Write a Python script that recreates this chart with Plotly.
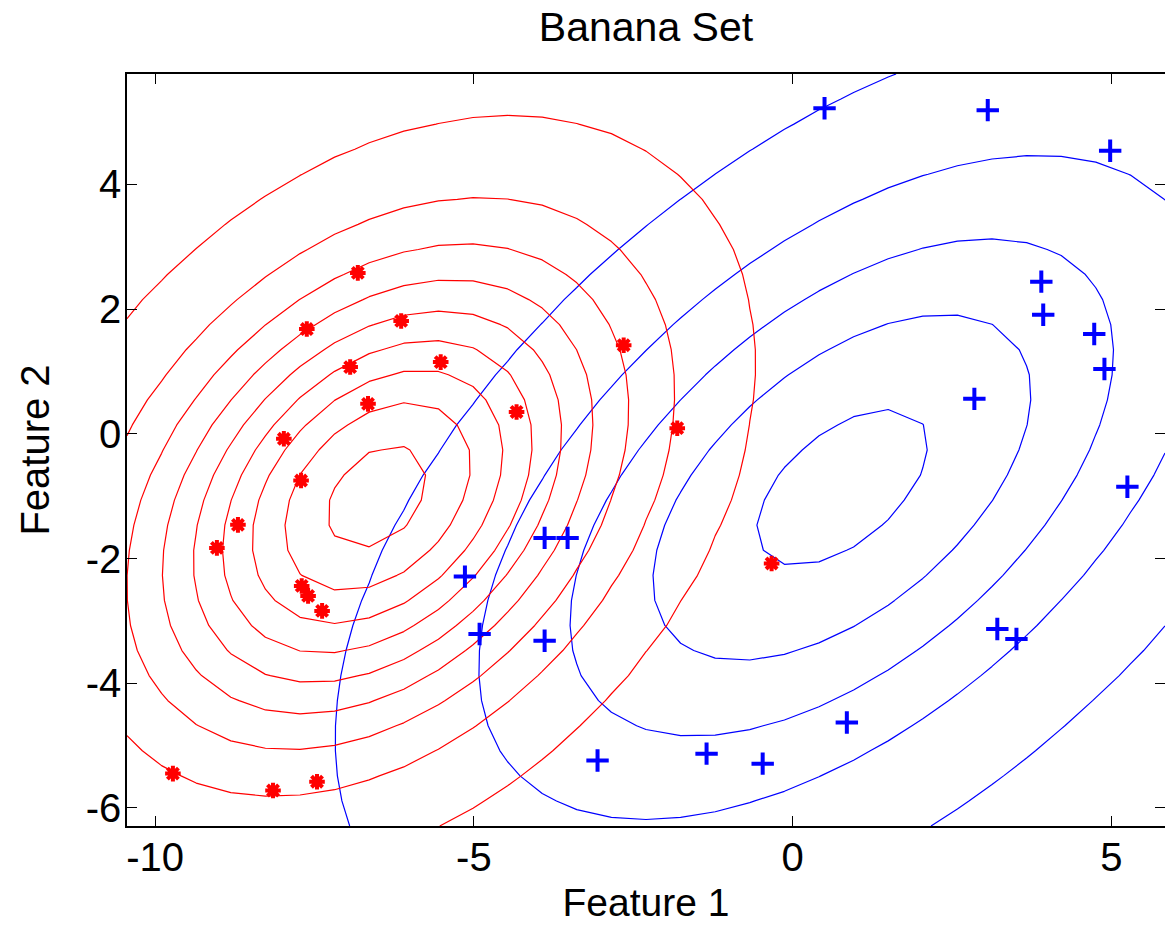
import numpy as np
import plotly.graph_objects as go

# ---- data ----
red_x = [-6.82, -7.62, -6.14, -6.94, -5.52, -6.66, -4.33, -2.65, -1.81, -7.98,
         -7.71, -8.70, -9.03, -7.70, -7.60, -7.38, -9.72, -8.15, -7.46, -0.33]
red_y = [2.58, 1.68, 1.81, 1.07, 1.15, 0.48, 0.35, 1.42, 0.09, -0.08,
         -0.75, -1.46, -1.83, -2.44, -2.60, -2.84, -5.45, -5.72, -5.58, -2.08]

blue_x = [-3.89, -3.53, -5.14, -4.91, -3.89, -3.06, -1.35, -0.47, 0.85, 3.21,
          3.51, 5.25, 0.50, 3.06, 4.98, 3.90, 3.93, 4.73, 4.89, 2.85]
blue_y = [-1.67, -1.67, -2.29, -3.21, -3.32, -5.24, -5.13, -5.29, -4.63, -3.13,
          -3.29, -0.85, 5.22, 5.19, 4.54, 2.44, 1.91, 1.60, 1.04, 0.56]

# density contour levels (same absolute levels for both classes)
level_start = 0.0015
level_step = 0.00305
level_count = 9

x_ticks = [-10, -5, 0, 5]
x_tick_text = ["-10", "-5", "0", "5"]
y_ticks = [-6, -4, -2, 0, 2, 4]
y_tick_text = ["-6", "-4", "-2", "0", "2", "4"]
x_range = [-10.44, 5.84]
y_range = [-6.29, 5.77]
grid_size = 31


def gauss_density(px, py, gx, gy):
    pts = np.vstack([px, py])
    mu = pts.mean(axis=1)
    cov = np.cov(pts)
    inv = np.linalg.inv(cov)
    det = np.linalg.det(cov)
    X, Y = np.meshgrid(gx, gy)
    dx = X - mu[0]
    dy = Y - mu[1]
    d2 = inv[0, 0] * dx * dx + 2 * inv[0, 1] * dx * dy + inv[1, 1] * dy * dy
    return np.exp(-0.5 * d2) / (2 * np.pi * np.sqrt(det))


gx = np.linspace(x_range[0], x_range[1], grid_size)
gy = np.linspace(y_range[0], y_range[1], grid_size)
z_red = gauss_density(red_x, red_y, gx, gy)
z_blue = gauss_density(blue_x, blue_y, gx, gy)

levels = dict(start=level_start,
              end=level_start + level_step * (level_count - 1) + 1e-6,
              size=level_step, coloring="lines")

fig = go.Figure()
fig.add_trace(go.Contour(x=gx, y=gy, z=z_blue, contours=levels,
                         colorscale=[[0, "#0000ff"], [1, "#0000ff"]],
                         showscale=False, line=dict(width=1.2, smoothing=0),
                         hoverinfo="skip"))
fig.add_trace(go.Contour(x=gx, y=gy, z=z_red, contours=levels,
                         colorscale=[[0, "#ff0000"], [1, "#ff0000"]],
                         showscale=False, line=dict(width=1.2, smoothing=0),
                         hoverinfo="skip"))
fig.add_trace(go.Scatter(x=red_x, y=red_y, mode="markers", name="class 1",
                         marker=dict(symbol="asterisk", size=13, color="#ff0000",
                                     line=dict(color="#ff0000", width=4))))
fig.add_trace(go.Scatter(x=blue_x, y=blue_y, mode="markers", name="class 2",
                         marker=dict(symbol="cross-thin", size=16, color="#0000ff",
                                     line=dict(color="#0000ff", width=4))))

font_family = "Liberation Sans, Arial, sans-serif"
axis_common = dict(showline=True, linecolor="black", linewidth=1.5, mirror="ticks",
                   ticks="inside", ticklen=10, tickwidth=1.3, tickcolor="black",
                   showgrid=False, zeroline=False, automargin=False,
                   tickfont=dict(family=font_family, size=40, color="black"))

fig.update_layout(
    width=1165, height=928,
    margin=dict(l=127, r=0, t=74, b=102),
    paper_bgcolor="white", plot_bgcolor="white",
    showlegend=False,
    title=dict(text="Banana Set", x=0.5, xref="paper", xanchor="center",
               y=1 - 27 / 928, yref="container", yanchor="middle",
               font=dict(family=font_family, size=41, color="black")),
    xaxis=dict(range=x_range, tickvals=x_ticks, ticktext=x_tick_text,
               ticklabelstandoff=-5,
               title=dict(text="Feature 1", standoff=11,
                          font=dict(family=font_family, size=39, color="black")),
               **axis_common),
    yaxis=dict(range=y_range, tickvals=y_ticks, ticktext=y_tick_text,
               ticklabelstandoff=-4,
               title=dict(text="Feature 2", standoff=24,
                          font=dict(family=font_family, size=40, color="black")),
               **axis_common),
)

fig.write_html("out.html",
               config={"displayModeBar": False},
               post_script="document.body.style.margin='0';document.body.style.overflow='hidden';")
